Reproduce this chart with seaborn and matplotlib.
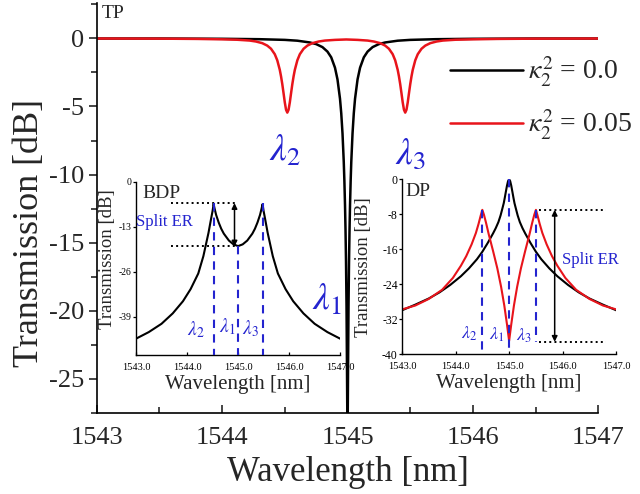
import matplotlib
matplotlib.use("Agg")
import matplotlib.pyplot as plt
import pandas as pd
import seaborn as sns
from matplotlib.ticker import MultipleLocator, FormatStrFormatter

# ---------------- data ----------------
# Through port (TP), kappa_2^2 = 0.0
tp_wl_k0 = [1543.0, 1543.5, 1544.0, 1544.3, 1544.5, 1544.6, 1544.7, 1544.75, 1544.8, 1544.84,
            1544.87, 1544.9, 1544.92, 1544.94, 1544.95, 1544.96, 1544.97, 1544.975, 1544.98,
            1544.984, 1544.988, 1544.992, 1544.996, 1545.0, 1545.004, 1545.008, 1545.012,
            1545.016, 1545.02, 1545.025, 1545.03, 1545.04, 1545.05, 1545.06, 1545.08, 1545.1,
            1545.13, 1545.16, 1545.2, 1545.25, 1545.3, 1545.4, 1545.5, 1545.7, 1546.0, 1546.5, 1547.0]
tp_db_k0 = [-0.01, -0.01, -0.03, -0.06, -0.11, -0.17, -0.30, -0.42, -0.64, -0.97,
            -1.39, -2.15, -3.01, -4.43, -5.50, -6.97, -9.06, -10.46, -12.24,
            -14.04, -16.4, -19.6, -24.6, -30.0, -24.6, -19.6, -16.4,
            -14.04, -12.24, -10.46, -9.06, -6.97, -5.50, -4.43, -3.01, -2.15,
            -1.39, -0.97, -0.64, -0.42, -0.30, -0.17, -0.11, -0.06, -0.03, -0.01, -0.01]

# Through port (TP), kappa_2^2 = 0.05
tp_wl_k05 = [1543.0, 1543.5, 1543.8, 1544.0, 1544.12, 1544.22, 1544.27, 1544.32, 1544.36, 1544.39,
             1544.42, 1544.44, 1544.46, 1544.47, 1544.48, 1544.49, 1544.50, 1544.51, 1544.52,
             1544.53, 1544.54, 1544.55, 1544.56, 1544.57, 1544.58, 1544.60, 1544.62, 1544.65,
             1544.68, 1544.72, 1544.77, 1544.82, 1544.9, 1544.99, 1545.08, 1545.16, 1545.21,
             1545.26, 1545.30, 1545.33, 1545.36, 1545.38, 1545.40, 1545.41, 1545.42, 1545.43,
             1545.44, 1545.45, 1545.46, 1545.47, 1545.48, 1545.49, 1545.50, 1545.51, 1545.52,
             1545.54, 1545.56, 1545.59, 1545.62, 1545.66, 1545.71, 1545.76, 1545.86, 1546.0,
             1546.2, 1546.5, 1547.0]
tp_db_k05 = [-0.01, -0.02, -0.04, -0.07, -0.10, -0.16, -0.23, -0.35, -0.53, -0.76,
             -1.16, -1.61, -2.31, -2.79, -3.36, -4.02, -4.70, -5.24, -5.45,
             -5.24, -4.70, -4.02, -3.36, -2.79, -2.31, -1.61, -1.16, -0.76,
             -0.53, -0.35, -0.23, -0.16, -0.11, -0.08, -0.11, -0.16, -0.23,
             -0.35, -0.53, -0.76, -1.16, -1.61, -2.31, -2.79, -3.36, -4.02,
             -4.70, -5.24, -5.45, -5.24, -4.70, -4.02, -3.36, -2.79, -2.31,
             -1.61, -1.16, -0.76, -0.53, -0.35, -0.23, -0.16, -0.10, -0.07,
             -0.04, -0.02, -0.01]

# Bidirectional drop port (BDP)
bdp_wl = [1543.0, 1543.25, 1543.5, 1543.72, 1543.92, 1544.07, 1544.22, 1544.32, 1544.42, 1544.47,
          1544.50, 1544.52, 1544.54, 1544.57, 1544.62, 1544.67, 1544.72, 1544.82, 1544.91, 1545.0,
          1545.09, 1545.18, 1545.28, 1545.33, 1545.38, 1545.43, 1545.46, 1545.48, 1545.50,
          1545.53, 1545.58, 1545.68, 1545.78, 1545.93, 1546.08, 1546.28, 1546.5, 1546.75, 1547.0]
bdp_db = [-45.3, -43.4, -41.0, -38.0, -34.5, -31.0, -26.5, -21.5, -14.8, -10.8,
          -8.5, -6.5, -7.8, -9.6, -11.8, -13.6, -15.0, -17.0, -18.1, -18.6,
          -18.1, -17.0, -15.0, -13.6, -11.8, -9.6, -7.8, -6.5, -8.5,
          -10.8, -14.8, -21.5, -26.5, -31.0, -34.5, -38.0, -41.0, -43.4, -45.3]

# Drop port (DP), kappa_2^2 = 0.0
dp_wl_k0 = [1543.0, 1543.25, 1543.5, 1543.7, 1543.9, 1544.1, 1544.25, 1544.4, 1544.5, 1544.6,
            1544.7, 1544.75, 1544.8, 1544.84, 1544.87, 1544.9, 1544.92, 1544.94, 1544.96, 1544.98,
            1545.0, 1545.02, 1545.04, 1545.06, 1545.08, 1545.1, 1545.13, 1545.16, 1545.2,
            1545.25, 1545.3, 1545.4, 1545.5, 1545.6, 1545.75, 1545.9, 1546.1, 1546.3, 1546.5,
            1546.75, 1547.0]
dp_db_k0 = [-30.0, -28.7, -27.3, -25.9, -24.2, -22.2, -20.4, -18.3, -16.6, -14.6,
            -12.4, -11.2, -9.8, -8.3, -6.9, -5.46, -4.17, -2.80, -1.47, -0.42,
            0.0, -0.42, -1.47, -2.80, -4.17, -5.46, -6.9, -8.3, -9.8,
            -11.2, -12.4, -14.6, -16.6, -18.3, -20.4, -22.2, -24.2, -25.9, -27.3,
            -28.7, -30.0]

# Drop port (DP), kappa_2^2 = 0.05
dp_wl_k05 = [1543.0, 1543.25, 1543.5, 1543.75, 1543.95, 1544.1, 1544.2, 1544.3, 1544.38, 1544.43,
             1544.47, 1544.5, 1544.53, 1544.57, 1544.62, 1544.7, 1544.78, 1544.85, 1544.91, 1544.96,
             1545.0, 1545.04, 1545.09, 1545.15, 1545.22, 1545.3, 1545.38, 1545.43, 1545.47, 1545.5,
             1545.53, 1545.57, 1545.62, 1545.7, 1545.8, 1545.9, 1546.05, 1546.25, 1546.5, 1546.75,
             1547.0]
dp_db_k05 = [-29.8, -28.9, -27.4, -25.3, -22.6, -19.8, -17.6, -14.9, -12.3, -10.2,
             -8.3, -7.0, -8.1, -10.0, -12.6, -16.4, -20.4, -24.6, -28.9, -33.2,
             -37.0, -33.2, -28.9, -24.6, -20.4, -16.4, -12.6, -10.0, -8.1, -7.0,
             -8.3, -10.2, -12.3, -14.9, -17.6, -19.8, -22.6, -25.3, -27.4, -28.9,
             -29.8]

# resonance markers and split extinction ratio levels
bdp_lambda = [1544.52, 1545.0, 1545.48]
dp_lambda = [1544.5, 1545.0, 1545.5]
bdp_split = [-6.2, -18.7]
dp_split = [-7.0, -37.2]

LABEL_K0 = r"$\kappa_2^2$ = 0.0"
LABEL_K05 = r"$\kappa_2^2$ = 0.05"

# ---------------- style ----------------
sns.set_style("ticks")
plt.rcParams["font.family"] = ["Liberation Serif", "DejaVu Serif"]
plt.rcParams["mathtext.fontset"] = "stix"
plt.rcParams["axes.unicode_minus"] = False
BLUE = "#2424cf"
RED = "#e8141b"
palette = {LABEL_K0: "black", LABEL_K05: RED}

tp = pd.concat([
    pd.DataFrame({"wl": tp_wl_k0, "db": tp_db_k0, "case": LABEL_K0}),
    pd.DataFrame({"wl": tp_wl_k05, "db": tp_db_k05, "case": LABEL_K05}),
])
dp = pd.concat([
    pd.DataFrame({"wl": dp_wl_k0, "db": dp_db_k0, "case": LABEL_K0}),
    pd.DataFrame({"wl": dp_wl_k05, "db": dp_db_k05, "case": LABEL_K05}),
])
bdp = pd.DataFrame({"wl": bdp_wl, "db": bdp_db})

fig = plt.figure(figsize=(6.4, 4.94), dpi=100)

# ---------------- main panel: through port ----------------
ax = fig.add_axes([0.151, 0.164, 0.784, 0.830])
sns.lineplot(data=tp, x="wl", y="db", hue="case", palette=palette, sort=False,
             estimator=None, lw=1.8, ax=ax)
ax.set_xlim(1543, 1547)
ax.set_ylim(-27.5, 2.6)
ax.xaxis.set_major_locator(MultipleLocator(1))
ax.xaxis.set_minor_locator(MultipleLocator(0.5))
ax.yaxis.set_major_locator(MultipleLocator(5))
ax.yaxis.set_minor_locator(MultipleLocator(2.5))
ax.tick_params(axis="x", which="both", direction="in", labelsize=19, pad=10)
ax.tick_params(axis="x", which="major", length=6, width=1.2)
ax.tick_params(axis="x", which="minor", length=4, width=1.2)
ax.tick_params(axis="y", which="both", direction="out", labelsize=19, pad=3)
ax.tick_params(axis="y", which="major", length=6, width=1.2)
ax.tick_params(axis="y", which="minor", length=4, width=1.2)
for s in ("top", "right"):
    ax.spines[s].set_visible(False)
for s in ("left", "bottom"):
    ax.spines[s].set_linewidth(1.2)
    ax.spines[s].set_color("black")
ax.set_xlabel("Wavelength [nm]", fontsize=25, labelpad=5)
ax.set_ylabel("Transmission [dB]", fontsize=26)
ax.yaxis.set_label_coords(-0.1, 0.44)
ax.text(1543.04, 1.85, "TP", fontsize=14, va="center", ha="left")
ax.text(1544.5, -8.3, r"$\lambda_2$", color=BLUE, fontsize=27, ha="center", va="center")
ax.text(1545.5, -8.5, r"$\lambda_3$", color=BLUE, fontsize=27, ha="center", va="center")
ax.text(1544.84, -19.2, r"$\lambda_1$", color=BLUE, fontsize=27, ha="center", va="center")
leg = ax.legend(loc="center left", bbox_to_anchor=(0.705, 0.768), frameon=False,
                fontsize=20, handlelength=2.6, labelspacing=0.68, handletextpad=0.2,
                borderpad=0, borderaxespad=0)
for line in leg.get_lines():
    line.set_linewidth(1.8)


def style_inset(a, yticks, ylabel_xy, ytick_size):
    a.patch.set_alpha(0)
    a.set_xlim(1543, 1547)
    a.set_xticks([1543, 1544, 1545, 1546, 1547])
    a.xaxis.set_major_formatter(FormatStrFormatter("%.1f"))
    a.set_yticks(yticks)
    a.tick_params(axis="both", length=2.2, width=0.9, colors="black")
    a.tick_params(axis="x", direction="in", labelsize=7.5, pad=6)
    a.tick_params(axis="y", direction="out", labelsize=ytick_size, pad=0.8)
    for s in ("top", "right"):
        a.spines[s].set_visible(False)
    for s in ("left", "bottom"):
        a.spines[s].set_linewidth(1.0)
        a.spines[s].set_color("black")
    a.set_xlabel("Wavelength [nm]", fontsize=15, labelpad=2)
    a.set_ylabel("Transmission [dB]", fontsize=13.5)
    a.yaxis.set_label_coords(*ylabel_xy)


# ---------------- inset: bidirectional drop port ----------------
a1 = fig.add_axes([0.2125, 0.2814, 0.319, 0.351])
sns.lineplot(data=bdp, x="wl", y="db", color="black", lw=1.5, sort=False,
             estimator=None, ax=a1)
a1.set_ylim(-50, 0)
style_inset(a1, [0, -13, -26, -39], (-0.1, 0.55), 7)
for lam, top in zip(bdp_lambda, [bdp_split[0], bdp_split[1], bdp_split[0]]):
    a1.plot([lam, lam], [top, -50], color=BLUE, lw=1.5, ls=(0, (4, 3)), zorder=3)
for yv in bdp_split:
    a1.plot([1543.68, 1544.98], [yv, yv], color="black", lw=1.4, ls=":")
a1.annotate("", xy=(1544.93, bdp_split[1]), xytext=(1544.93, bdp_split[0]),
            arrowprops=dict(arrowstyle="<|-|>", color="black", lw=1.1, mutation_scale=8,
                            shrinkA=0, shrinkB=0))
a1.text(1543.12, -3.5, "BDP", fontsize=14, va="center", ha="left")
a1.text(1543.0, -11.7, "Split ER", color=BLUE, fontsize=12, va="center", ha="left")
a1.text(1544.18, -42.8, r"$\lambda_2$", color=BLUE, fontsize=14, ha="center", va="center")
a1.text(1544.78, -41.8, r"$\lambda_1$", color=BLUE, fontsize=14, ha="center", va="center")
a1.text(1545.24, -42.3, r"$\lambda_3$", color=BLUE, fontsize=14, ha="center", va="center")

# ---------------- inset: drop port ----------------
a2 = fig.add_axes([0.628, 0.2834, 0.335, 0.3537])
sns.lineplot(data=dp, x="wl", y="db", hue="case", palette=palette, sort=False,
             estimator=None, lw=1.5, ax=a2, legend=False)
a2.set_ylim(-40, 0)
style_inset(a2, [0, -8, -16, -24, -32, -40], (-0.14, 0.5), 8.5)
for lam, top, bot in zip(dp_lambda, [dp_split[0], 0.0, dp_split[0]], [-40, -40, dp_split[1]]):
    a2.plot([lam, lam], [top, bot], color=BLUE, lw=1.5, ls=(0, (4, 3)), zorder=3)
for yv in dp_split:
    a2.plot([1545.55, 1546.8], [yv, yv], color="black", lw=1.4, ls=":")
a2.annotate("", xy=(1545.85, dp_split[1]), xytext=(1545.85, dp_split[0]),
            arrowprops=dict(arrowstyle="<|-|>", color="black", lw=1.1, mutation_scale=8,
                            shrinkA=0, shrinkB=0))
a2.text(1543.06, -2.8, "DP", fontsize=14, va="center", ha="left")
a2.text(1545.98, -18.5, "Split ER", color=BLUE, fontsize=12, va="center", ha="left")
a2.text(1544.26, -35.3, r"$\lambda_2$", color=BLUE, fontsize=13, ha="center", va="center")
a2.text(1544.77, -35.5, r"$\lambda_1$", color=BLUE, fontsize=13, ha="center", va="center")
a2.text(1545.27, -35.8, r"$\lambda_3$", color=BLUE, fontsize=13, ha="center", va="center")

fig.savefig("out.png", dpi=100)
